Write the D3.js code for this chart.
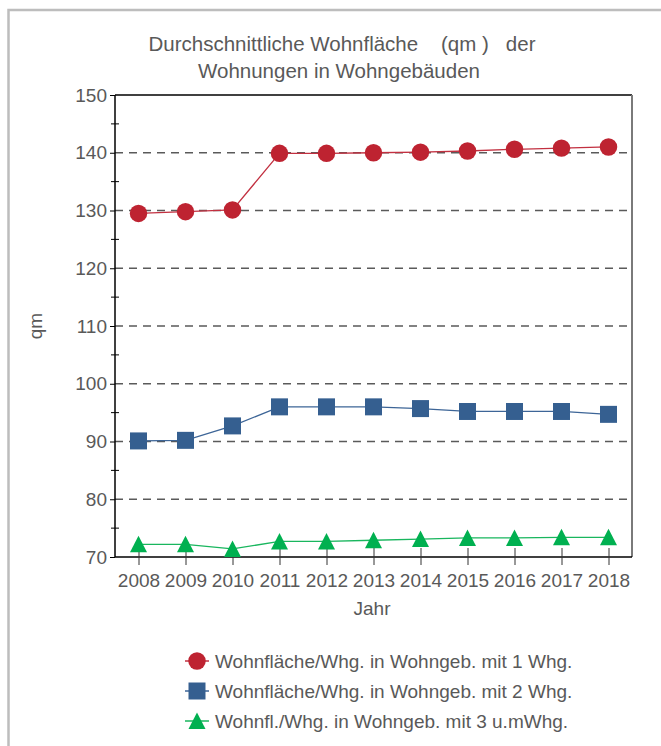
<!DOCTYPE html>
<html>
<head>
<meta charset="utf-8">
<script src="https://cdn.jsdelivr.net/npm/d3@7"></script>
<style>
  body { margin: 0; background: #fff; }
  text { font-family: "Liberation Sans", Arial, sans-serif; fill: #595959; }
</style>
</head>
<body>
<div id="canvas"></div>
<script>
const years = [2008, 2009, 2010, 2011, 2012, 2013, 2014, 2015, 2016, 2017, 2018];
const seriesNames = [
    "Wohnfläche/Whg. in Wohngeb. mit 1 Whg.",
    "Wohnfläche/Whg. in Wohngeb. mit 2 Whg.",
    "Wohnfl./Whg. in Wohngeb. mit 3 u.mWhg."
];
const valuesOne = [129.5, 129.8, 130.1, 139.9, 139.9, 140.0, 140.1, 140.3, 140.6, 140.8, 141.0];
const valuesTwo = [90.1, 90.2, 92.7, 96.0, 96.0, 96.0, 95.7, 95.2, 95.2, 95.2, 94.7];
const valuesThree = [72.2, 72.2, 71.4, 72.7, 72.7, 72.9, 73.1, 73.3, 73.3, 73.4, 73.4];
const yTicks = [70, 80, 90, 100, 110, 120, 130, 140, 150];
const yMinorTicks = [75, 85, 95, 105, 115, 125, 135, 145];
const gridTicks = [80, 90, 100, 110, 120, 130, 140];

const width = 661;
const height = 746;
const margin = { top: 95, left: 115, bottom: 189, right: 29 };
const iwidth = width - margin.left - margin.right;
const iheight = height - margin.top - margin.bottom;

const colors = ["#be2331", "#355f90", "#00b050"];
const lineColors = ["#c23040", "#3d6597", "#19b65e"];

const svg = d3.select("#canvas").append("svg")
    .attr("width", width)
    .attr("height", height);

// outer frame (left + top only visible)
svg.append("path")
    .attr("d", `M8.5,${height} L8.5,10 L${width},10`)
    .attr("fill", "none")
    .attr("stroke", "#bdbdbd")
    .attr("stroke-width", 2.5);

// title
const title = svg.append("text")
    .attr("text-anchor", "middle")
    .style("font-size", "20.5px")
    .style("white-space", "pre");
title.append("tspan").attr("x", 342).attr("y", 51).text("Durchschnittliche Wohnfläche    (qm )   der");
title.append("tspan").attr("x", 339).attr("y", 78).text("Wohnungen in Wohngebäuden");

const g = svg.append("g").attr("transform", `translate(${margin.left},${margin.top})`);

const x = d3.scalePoint()
    .domain(years)
    .range([0, iwidth])
    .padding(0.5);
const y = d3.scaleLinear()
    .domain([70, 150])
    .range([iheight, 0]);

// gridlines
g.selectAll(".grid").data(gridTicks).enter().append("line")
    .attr("class", "grid")
    .attr("x1", 0).attr("x2", iwidth)
    .attr("y1", d => y(d)).attr("y2", d => y(d))
    .attr("stroke", "#5a5a5a")
    .attr("stroke-width", 1.5)
    .attr("stroke-dasharray", "8,6");

// top border and right border
g.append("line").attr("x1", 0).attr("x2", iwidth).attr("y1", 0).attr("y2", 0)
    .attr("stroke", "#000").attr("stroke-width", 1.5);
g.append("line").attr("x1", iwidth).attr("x2", iwidth).attr("y1", 0).attr("y2", iheight)
    .attr("stroke", "#7a7a7a").attr("stroke-width", 2);

// y axis
const yAxis = g.append("g")
    .call(d3.axisLeft(y).tickValues(yTicks).tickSize(5).tickPadding(3));
yAxis.select(".domain").attr("d", `M0,${iheight}V0`).attr("stroke", "#000").attr("stroke-width", 1.5);
yAxis.selectAll("text").style("font-size", "19px").attr("fill", "#595959");

g.selectAll(".minor").data(yMinorTicks).enter().append("line")
    .attr("class", "minor")
    .attr("x1", -4).attr("x2", 4)
    .attr("y1", d => y(d)).attr("y2", d => y(d))
    .attr("stroke", "#000");

// x axis
const xAxis = g.append("g")
    .attr("transform", `translate(0,${iheight})`)
    .call(d3.axisBottom(x).tickSize(8).tickPadding(9));
xAxis.select(".domain").attr("d", `M0,0H${iwidth}`).attr("stroke", "#000").attr("stroke-width", 1.5);
xAxis.selectAll(".tick line").attr("y1", -9).attr("stroke", "#333");
xAxis.selectAll("text").style("font-size", "19px").attr("fill", "#595959");

// axis titles
svg.append("text")
    .attr("transform", "translate(42,326) rotate(-90)")
    .attr("text-anchor", "middle")
    .style("font-size", "19px")
    .text("qm");
svg.append("text")
    .attr("x", 372).attr("y", 615)
    .attr("text-anchor", "middle")
    .style("font-size", "19px")
    .text("Jahr");

// series
const series = [valuesOne, valuesTwo, valuesThree].map((vals, i) => ({
    name: seriesNames[i],
    points: years.map((yr, j) => ({ year: yr, value: vals[j] }))
}));

const line = d3.line().x(d => x(d.year)).y(d => y(d.value));

const circlePath = d3.symbol().type(d3.symbolCircle).size(240)();
const squarePath = "M-8.5,-8.5H8.5V8.5H-8.5Z";
const trianglePath = "M0,-8.5L8.5,8L-8.5,8Z";
const shapes = [circlePath, squarePath, trianglePath];

series.forEach((s, i) => {
    g.append("path")
        .datum(s.points)
        .attr("fill", "none")
        .attr("stroke", lineColors[i])
        .attr("stroke-width", 1.3)
        .attr("d", line);
    g.selectAll(".m" + i).data(s.points).enter().append("path")
        .attr("class", "m" + i)
        .attr("transform", d => `translate(${x(d.year)},${y(d.value)})`)
        .attr("d", shapes[i])
        .attr("fill", colors[i]);
});

// legend
const legend = svg.append("g");
const legendRows = [661, 691, 721];
series.forEach((s, i) => {
    const row = legend.append("g").attr("transform", `translate(197,${legendRows[i]})`);
    row.append("line").attr("x1", -12).attr("x2", 12)
        .attr("stroke", lineColors[i]).attr("stroke-width", 1.5);
    row.append("path").attr("d", shapes[i]).attr("fill", colors[i]);
    row.append("text")
        .attr("x", 18).attr("y", 7)
        .style("font-size", "19px")
        .text(s.name);
});
</script>
</body>
</html>
